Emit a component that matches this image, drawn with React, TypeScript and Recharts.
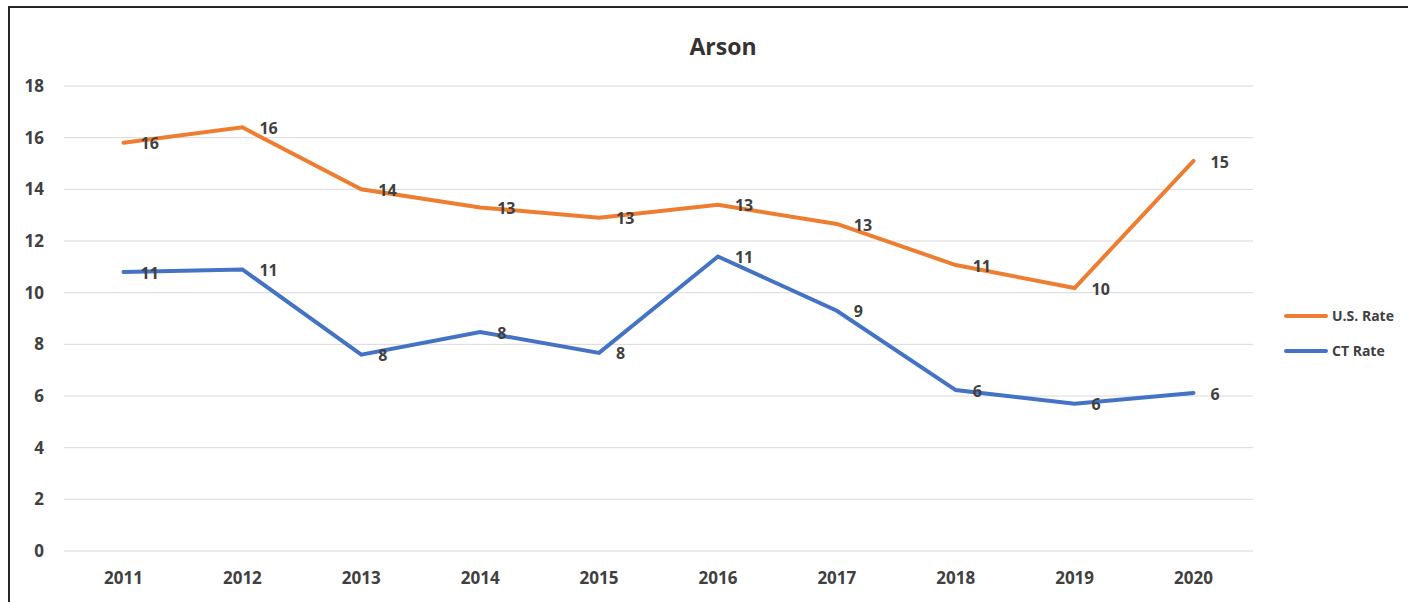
import React from "react";
import { LineChart, Line, XAxis, YAxis, CartesianGrid, Legend, LabelList } from "recharts";

const years = ["2011", "2012", "2013", "2014", "2015", "2016", "2017", "2018", "2019", "2020"];
const usRate = [15.8, 16.4, 14.0, 13.3, 12.9, 13.4, 12.66, 11.07, 10.18, 15.1];
const ctRate = [10.8, 10.9, 7.6, 8.48, 7.67, 11.4, 9.3, 6.23, 5.7, 6.12];
const yTicks = [0, 2, 4, 6, 8, 10, 12, 14, 16, 18];

const data = years.map((y, i) => ({ year: y, us: usRate[i], ct: ctRate[i] }));

const FONT = "'Open Sans', 'Noto Sans', sans-serif";
const TXT = "#404040";
const ORANGE = "#ED7D31";
const BLUE = "#4472C4";

const DataLabel = (props: any) => {
  const { x, y, value } = props;
  return (
    <text x={x + 17} y={y + 1} dy="0.35em" textAnchor="start" fill={TXT} fontFamily={FONT} fontWeight={700} fontSize={16}>
      {Math.round(value)}
    </text>
  );
};

const LegendContent = () => (
  <div style={{ fontFamily: FONT, fontWeight: 700, fontSize: 14, color: TXT }}>
    {[
      { name: "U.S. Rate", color: ORANGE },
      { name: "CT Rate", color: BLUE },
    ].map((it) => (
      <div key={it.name} style={{ display: "flex", alignItems: "center", height: 35 }}>
        <div style={{ width: 44, height: 4, background: it.color, borderRadius: 2, marginRight: 4 }} />
        <span>{it.name}</span>
      </div>
    ))}
  </div>
);

export default function App() {
  return (
    <div style={{ position: "absolute", left: 0, top: 0, width: 1408, height: 602, overflow: "hidden", background: "#fff" }}>
      <div style={{ position: "absolute", left: 8, top: 6, width: 1440, height: 640, border: "2px solid #262626", boxSizing: "border-box" }} />
      <div style={{ position: "absolute", left: 0, top: 30, width: 1446, textAlign: "center", fontFamily: FONT, fontWeight: 700, fontSize: 23, color: "#333" }}>
        Arson
      </div>
      <div style={{ position: "absolute", left: 0, top: 0 }}>
        <LineChart width={1408} height={602} data={data} margin={{ top: 86, right: 31, bottom: 21, left: 0 }}>
          <CartesianGrid vertical={false} stroke="#d9d9d9" strokeWidth={1} />
          <XAxis
            dataKey="year"
            axisLine={false}
            tickLine={false}
            padding={{ left: 59.5, right: 59.5 }}
            height={30}
            tickMargin={15}
            tick={{ fill: TXT, fontFamily: FONT, fontWeight: 700, fontSize: 17 }}
          />
          <YAxis
            domain={[0, 18]}
            ticks={yTicks}
            width={64}
            axisLine={false}
            tickLine={false}
            tickMargin={14}
            interval={0}
            tick={{ fill: TXT, fontFamily: FONT, fontWeight: 700, fontSize: 17 }}
          />
          <Legend layout="horizontal" verticalAlign="middle" align="right" wrapperStyle={{ left: 1284, top: 298, width: 124 }} content={LegendContent} />
          <Line dataKey="us" name="U.S. Rate" stroke={ORANGE} strokeWidth={4} dot={false} isAnimationActive={false} strokeLinecap="round">
            <LabelList dataKey="us" content={DataLabel} />
          </Line>
          <Line dataKey="ct" name="CT Rate" stroke={BLUE} strokeWidth={4} dot={false} isAnimationActive={false} strokeLinecap="round">
            <LabelList dataKey="ct" content={DataLabel} />
          </Line>
        </LineChart>
      </div>
    </div>
  );
}
